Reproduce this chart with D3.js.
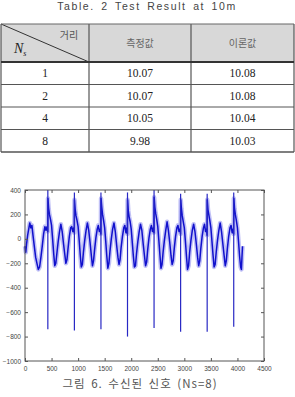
<!DOCTYPE html>
<html>
<head>
<meta charset="utf-8">
<script src="https://cdn.jsdelivr.net/npm/d3@7"></script>
<style>
  body { margin: 0; background: #fff; }
  text { fill: #333; }
</style>
</head>
<body>
<div id="viz"></div>
<script>
// table values
let nsValues = [1, 2, 4, 8];
let measured = [10.07, 10.07, 10.05, 9.98];
let theory = [10.08, 10.08, 10.04, 10.03];
let headers = ['측정값', '이론값'];

// received signal as [sample, value]
let wave = [
  [0,-60],[15,-110],[30,-40],[50,30],[70,80],[90,130],[110,90],[130,110],[150,30],[175,-60],[200,-150],[225,-200],[250,-250],[275,-230],[300,-150],[325,-60],[350,40],[375,100],[395,70],[415,100],[428,60],
  [432,330],[445,250],[460,200],[480,160],[500,110],[520,0],[540,-120],[560,-220],[580,-200],[600,-120],[625,-20],[650,60],[675,120],[700,60],[725,-40],[750,-130],[770,-200],[790,-170],[810,-80],[835,20],[860,90],[880,100],[900,60],[918,90],[928,50],
  [932,320],[945,240],[960,190],[980,150],[1000,100],[1020,-10],[1040,-130],[1060,-230],[1080,-210],[1100,-110],[1125,-10],[1150,70],[1175,130],[1200,70],[1225,-30],[1250,-140],[1270,-220],[1290,-180],[1310,-90],[1335,10],[1360,80],[1380,110],[1400,60],[1418,80],[1428,40],
  [1432,330],[1445,260],[1460,200],[1480,150],[1500,90],[1520,-20],[1540,-140],[1560,-240],[1580,-200],[1600,-100],[1625,0],[1650,80],[1675,130],[1700,60],[1725,-50],[1750,-150],[1770,-210],[1790,-170],[1810,-70],[1835,20],[1860,90],[1880,110],[1900,50],[1918,90],[1928,40],
  [1932,320],[1945,230],[1960,180],[1980,140],[2000,80],[2020,-30],[2040,-140],[2060,-230],[2080,-220],[2100,-120],[2125,-20],[2150,60],[2175,120],[2200,70],[2225,-40],[2250,-140],[2270,-220],[2290,-190],[2310,-90],[2335,10],[2360,80],[2380,110],[2400,60],[2418,90],[2428,50],
  [2432,340],[2445,260],[2460,210],[2480,160],[2500,100],[2520,-10],[2540,-130],[2560,-240],[2580,-210],[2600,-110],[2625,-10],[2650,70],[2675,140],[2700,70],[2725,-30],[2750,-140],[2770,-210],[2790,-180],[2810,-80],[2835,20],[2860,90],[2880,110],[2900,60],[2918,80],[2928,40],
  [2932,320],[2945,250],[2960,190],[2980,140],[3000,90],[3020,-20],[3040,-140],[3060,-250],[3080,-220],[3100,-110],[3125,-10],[3150,70],[3175,120],[3200,60],[3225,-40],[3250,-150],[3270,-220],[3290,-180],[3310,-80],[3335,20],[3360,90],[3380,120],[3400,60],[3418,80],[3428,30],
  [3432,320],[3445,240],[3460,200],[3480,150],[3500,90],[3520,-20],[3540,-130],[3560,-230],[3580,-210],[3600,-110],[3625,-10],[3650,70],[3675,130],[3700,60],[3725,-40],[3750,-140],[3770,-220],[3790,-180],[3810,-80],[3835,20],[3860,90],[3880,110],[3900,50],[3918,80],[3928,40],
  [3932,330],[3945,250],[3960,200],[3980,150],[4000,90],[4020,-20],[4040,-140],[4060,-230],[4075,-250],[4085,-150],[4096,-60]
];

// spikes: sample, lowest, highest
let spikes = [
  [430,-740,400],[930,-750,380],[1430,-740,380],[1930,-800,380],
  [2430,-730,400],[2930,-760,370],[3430,-760,370],[3930,-720,380]
];

let xTicks = [0,500,1000,1500,2000,2500,3000,3500,4000,4500];
let yTicks = [-1000,-800,-600,-400,-200,0,200,400];

let svg = d3.select('#viz').append('svg')
  .attr('width', 295)
  .attr('height', 397);

// ---------- table ----------
svg.append('text')
  .attr('x', 147).attr('y', 10)
  .attr('text-anchor', 'middle')
  .style('font-family', 'Liberation Sans, Arial, sans-serif')
  .style('font-size', '10.5px')
  .style('letter-spacing', '1.6px')
  .style('word-spacing', '2px')
  .style('fill', '#444')
  .text('Table. 2 Test Result at 10m');

let tLeft = 1, tRight = 294, tTop = 24, headBottom = 62, tBottom = 152;
let colX = [tLeft, 89, 191, tRight];

let rowY = d3.scaleBand()
  .domain(nsValues)
  .range([headBottom, tBottom]);

let table = svg.append('g');

table.append('rect')
  .attr('x', tLeft).attr('y', tTop)
  .attr('width', tRight - tLeft).attr('height', headBottom - tTop)
  .style('fill', '#d8d8d8');

// diagonal in the corner cell
table.append('line')
  .attr('x1', tLeft).attr('y1', tTop)
  .attr('x2', colX[1]).attr('y2', headBottom)
  .style('stroke', '#333').style('stroke-width', 1);

// row lines
nsValues.slice(1).forEach(n => {
  table.append('line')
    .attr('x1', tLeft).attr('x2', tRight)
    .attr('y1', rowY(n)).attr('y2', rowY(n))
    .style('stroke', '#555').style('stroke-width', 1);
});

colX.forEach(cx => {
  table.append('line')
    .attr('x1', cx).attr('x2', cx)
    .attr('y1', tTop).attr('y2', tBottom)
    .style('stroke', '#555').style('stroke-width', 1.2);
});

table.append('line')
  .attr('x1', tLeft).attr('x2', tRight)
  .attr('y1', tTop).attr('y2', tTop)
  .style('stroke', '#666').style('stroke-width', 1);
table.append('line')
  .attr('x1', tLeft).attr('x2', tRight)
  .attr('y1', headBottom).attr('y2', headBottom)
  .style('stroke', '#333').style('stroke-width', 2);
table.append('line')
  .attr('x1', tLeft).attr('x2', tRight)
  .attr('y1', tBottom).attr('y2', tBottom)
  .style('stroke', '#555').style('stroke-width', 1.5);

// header text
table.append('text')
  .attr('x', 69).attr('y', 39)
  .attr('text-anchor', 'middle')
  .style('font-family', 'Noto Sans CJK KR')
  .style('font-size', '10px')
  .style('fill', '#555')
  .text('거리');

let ns = table.append('text')
  .attr('x', 14).attr('y', 53)
  .style('font-family', 'Liberation Serif, serif')
  .style('font-style', 'italic')
  .style('font-size', '14px')
  .style('fill', '#222');
ns.append('tspan').text('N');
ns.append('tspan').attr('dy', 3).style('font-size', '8px').text('s');

headers.forEach((h, i) => {
  table.append('text')
    .attr('x', (colX[i + 1] + colX[i + 2]) / 2)
    .attr('y', 47)
    .attr('text-anchor', 'middle')
    .style('font-family', 'Noto Sans CJK KR')
    .style('font-size', '10px')
    .style('fill', '#666')
    .text(h);
});

// body cells
let cellFont = g => g
  .attr('text-anchor', 'middle')
  .style('font-family', 'Liberation Serif, serif')
  .style('font-size', '11.5px')
  .style('fill', '#222');

nsValues.forEach((n, i) => {
  let cy = rowY(n) + rowY.bandwidth() / 2 + 4;
  table.append('text').attr('x', (colX[0] + colX[1]) / 2).attr('y', cy).call(cellFont).text(n);
  table.append('text').attr('x', (colX[1] + colX[2]) / 2).attr('y', cy).call(cellFont).text(measured[i].toFixed(2));
  table.append('text').attr('x', (colX[2] + colX[3]) / 2).attr('y', cy).call(cellFont).text(theory[i].toFixed(2));
});

// ---------- signal plot ----------
let pLeft = 25, pRight = 264, pTop = 190, pBottom = 361;

let x = d3.scaleLinear().domain([0, 4500]).range([pLeft, pRight]);
let y = d3.scaleLinear().domain([-1000, 400]).range([pBottom, pTop]);

let plot = svg.append('g');

let line = d3.line()
  .x(d => x(d[0]))
  .y(d => y(d[1]));

// noisy band look: wide faint stroke under a thinner one
plot.append('path')
  .datum(wave)
  .attr('d', line)
  .style('fill', 'none')
  .style('stroke', '#4a4ae6')
  .style('stroke-opacity', 0.35)
  .style('stroke-width', 4.5)
  .style('stroke-linejoin', 'round');

plot.append('path')
  .datum(wave)
  .attr('d', line)
  .style('fill', 'none')
  .style('stroke', '#1010cc')
  .style('stroke-width', 1.5)
  .style('stroke-linejoin', 'round');

plot.selectAll('.spike')
  .data(spikes)
  .join('line')
  .attr('class', 'spike')
  .attr('x1', d => x(d[0])).attr('x2', d => x(d[0]))
  .attr('y1', d => y(d[1])).attr('y2', d => y(d[2]))
  .style('stroke', '#2828c4')
  .style('stroke-width', 1.2);

// axes, matlab style: ticks inward on all four sides
let axisStyle = g => {
  g.select('.domain').remove();
  g.selectAll('line').style('stroke', '#555');
  g.selectAll('text')
    .style('font-family', 'Liberation Sans, Arial, sans-serif')
    .style('font-size', '6.5px')
    .style('fill', '#444');
};

svg.append('g')
  .attr('transform', `translate(0,${pBottom})`)
  .call(d3.axisBottom(x).tickValues(xTicks).tickSize(-3).tickPadding(5).tickFormat(d3.format('d')))
  .call(axisStyle);

svg.append('g')
  .attr('transform', `translate(0,${pTop})`)
  .call(d3.axisTop(x).tickValues(xTicks).tickSize(-3).tickFormat(''))
  .call(axisStyle);

svg.append('g')
  .attr('transform', `translate(${pLeft},0)`)
  .call(d3.axisLeft(y).tickValues(yTicks).tickSize(-3).tickPadding(4).tickFormat(d3.format('d')))
  .call(axisStyle);

svg.append('g')
  .attr('transform', `translate(${pRight},0)`)
  .call(d3.axisRight(y).tickValues(yTicks).tickSize(-3).tickFormat(''))
  .call(axisStyle);

svg.append('rect')
  .attr('x', pLeft).attr('y', pTop)
  .attr('width', pRight - pLeft).attr('height', pBottom - pTop)
  .style('fill', 'none')
  .style('stroke', '#555')
  .style('stroke-width', 1);

// caption
svg.append('text')
  .attr('x', 140).attr('y', 388)
  .attr('text-anchor', 'middle')
  .style('font-family', 'Noto Sans CJK KR')
  .style('font-size', '11.5px')
  .style('letter-spacing', '1px')
  .style('word-spacing', '2px')
  .style('fill', '#555')
  .text('그림 6. 수신된 신호 (Ns=8)');
</script>
</body>
</html>
